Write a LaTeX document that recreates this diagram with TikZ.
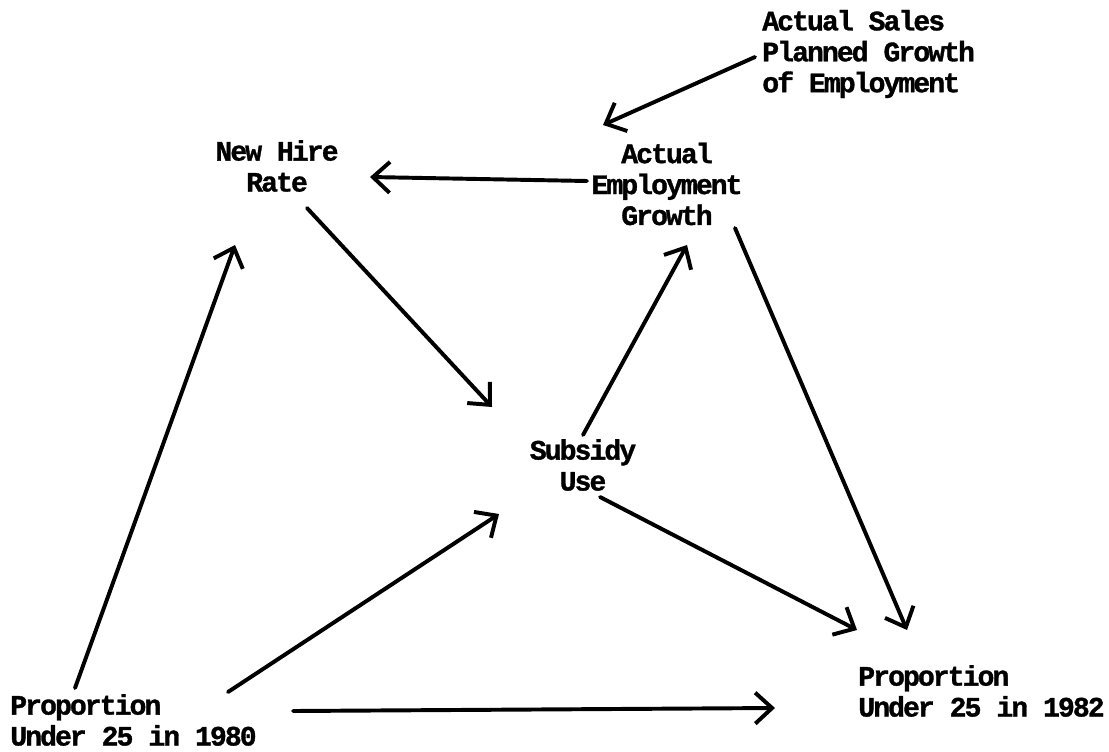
\documentclass[tikz,border=0pt]{standalone}
\usepackage{fontspec}
\newfontfamily\typer{Liberation Mono}[UprightFont={* Bold},FakeBold=1.2,LetterSpace=-7]
\usetikzlibrary{arrows.meta,calc,positioning}
\tikzset{
	factor/.style={inner sep=0pt,font=\typer\fontsize{20}{22}\selectfont},
	causal/.style={-{Straight Barb[length=12pt,width=22pt]},color=black,line width=2.8pt,line cap=round}
}
\begin{document}
\begin{tikzpicture}[x=0.025cm,y=-0.025cm]
		\useasboundingbox (0,0) rectangle (1109,751);
		
		% variables of the model
		\node[factor,anchor=west,align=left] (sales) at (762,54) {Actual Sales\\Planned Growth\\of Employment};
		\node[factor,align=center] (hire) at (277,166) {New Hire\\Rate};
		\node[factor,align=center] (emp) at (667,184) {Actual\\Employment\\Growth};
		\node[factor,align=center] (subsidy) at (583,465) {Subsidy\\Use};
		\node[factor,anchor=west,align=left] (p80) at (10,720) {Proportion\\Under 25 in 1980};
		\node[factor,anchor=west,align=left] (p82) at (858,691) {Proportion\\Under 25 in 1982};
		
		% causal links
		\draw[causal] ($(sales.west)+(-7,3)$) -- ($(emp)+(-64,-59)$);
		\draw[causal] ($(emp)+(-80,-3)$) -- ($(hire)+(93,11)$);
		\draw[causal] ($(hire)+(30,42)$) -- ($(subsidy)+(-91,-58)$);
		\draw[causal] ($(subsidy)+(0,-30)$) -- ($(emp)+(20,61)$);
		\draw[causal] ($(emp)+(68,44)$) -- ($(p82.west)+(49,-61)$);
		\draw[causal] ($(subsidy)+(17,32)$) -- ($(p82.west)+(-1,-61)$);
		\draw[causal] ($(p80.west)+(65,-32)$) -- ($(hire)+(-42,79)$);
		\draw[causal] ($(p80.west)+(218,-28)$) -- ($(subsidy)+(-84,49)$);
		\draw[causal] ($(p80.west)+(283,-9)$) -- ($(p82.west)+(-83,17)$);
		
	\end{tikzpicture}
\end{document}
